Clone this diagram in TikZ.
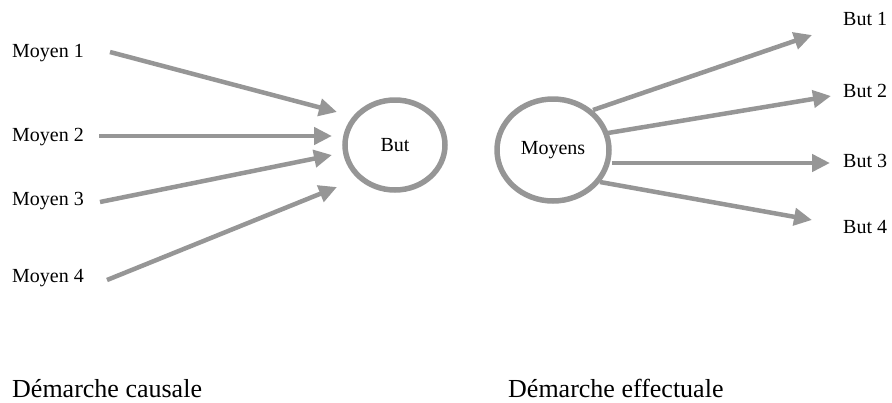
\documentclass[tikz,border=0pt]{standalone}
\usepackage{fontspec}
\setmainfont{Liberation Serif}
\usetikzlibrary{arrows.meta,shapes.geometric}
\definecolor{arrowgray}{RGB}{150,150,150}
\tikzset{
  lbl/.style={anchor=base west, inner sep=0pt, font=\fontsize{20}{24}\selectfont},
  title/.style={anchor=base west, inner sep=0pt, font=\fontsize{26}{30}\selectfont},
  ring/.style={ellipse, draw=arrowgray, line width=5.5pt, inner sep=0pt, font=\fontsize{20}{24}\selectfont},
  conn/.style={draw=arrowgray, line width=4.5pt, -{Triangle[length=18pt,width=17pt]}, arrowgray}
}
\begin{document}
\begin{tikzpicture}[x=1pt,y=-1pt]
\useasboundingbox (0,0) rectangle (892,402);
% labels
\node[lbl] (m1) at (12,57) {Moyen 1};
\node[lbl] (m2) at (12,141) {Moyen 2};
\node[lbl] (m3) at (12,205) {Moyen 3};
\node[lbl] (m4) at (12,282) {Moyen 4};
\node[lbl] (b1) at (843,25) {But 1};
\node[lbl] (b2) at (843,97) {But 2};
\node[lbl] (b3) at (843,167) {But 3};
\node[lbl] (b4) at (843,233) {But 4};
\node[title] (t1) at (12,397) {Démarche causale};
\node[title] (t2) at (508,397) {Démarche effectuale};
% circles
\node[ring, minimum width=100pt, minimum height=90pt] (but) at (395,145) {But};
\node[ring, minimum width=112pt, minimum height=102pt] (moy) at (553,150) {Moyens};
% arrow endpoints
\coordinate (s1) at (110,52);  \coordinate (e1) at (337,112);
\coordinate (s2) at (99,136);  \coordinate (e2) at (332,136);
\coordinate (s3) at (100,202); \coordinate (e3) at (332,155);
\coordinate (s4) at (107,280); \coordinate (e4) at (337,187);
\coordinate (r1) at (593,110); \coordinate (f1) at (812,35);
\coordinate (r2) at (608,133); \coordinate (f2) at (831,96);
\coordinate (r3) at (612,163); \coordinate (f3) at (830,163);
\coordinate (r4) at (600,182); \coordinate (f4) at (812,220);
\draw[conn] (s1) -- (e1);
\draw[conn] (s2) -- (e2);
\draw[conn] (s3) -- (e3);
\draw[conn] (s4) -- (e4);
\draw[conn] (r1) -- (f1);
\draw[conn] (r2) -- (f2);
\draw[conn] (r3) -- (f3);
\draw[conn] (r4) -- (f4);
\end{tikzpicture}
\end{document}
